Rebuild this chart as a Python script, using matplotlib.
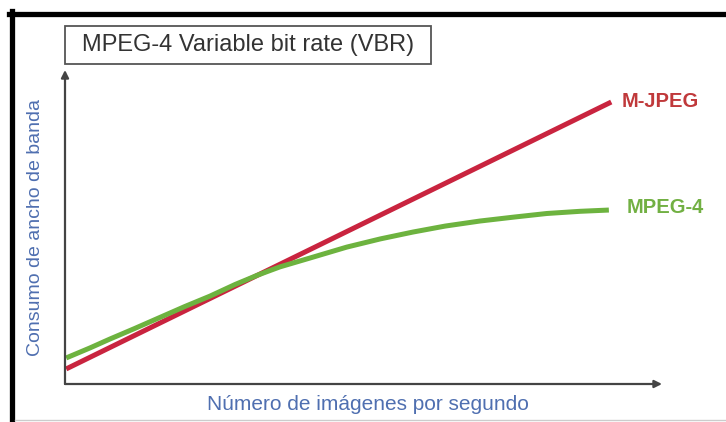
import matplotlib
matplotlib.use('Agg')
import matplotlib.pyplot as plt
from matplotlib.lines import Line2D
from matplotlib.patches import Rectangle

plt.rcParams['font.family'] = ['Liberation Sans', 'DejaVu Sans']

# values (arbitrary units, 0-100 on both axes)
mjpeg_x = [0.2, 91.5]
mjpeg_y = [4.8, 89.8]

mpeg4_x = [0.2, 4.2, 7.5, 11.7, 15.9, 20.1, 24.3, 28.5, 32.3, 36.0,
           41.0, 47.2, 52.8, 58.3, 63.7, 69.5, 75.4, 80.7, 86.3, 91.1]
mpeg4_y = [8.3, 11.5, 14.3, 17.7, 21.2, 24.7, 28.0, 31.7, 34.7, 37.3,
           40.1, 43.6, 46.2, 48.4, 50.3, 51.9, 53.2, 54.3, 55.0, 55.4]

title = 'MPEG-4 Variable bit rate (VBR)'
xlabel = 'Número de imágenes por segundo'
ylabel = 'Consumo de ancho de banda'

red = '#c9243f'
green = '#6db33f'
blue = '#4f6fb0'
axis_col = '#444444'

W, H = 726, 422
fig = plt.figure(figsize=(W / 100, H / 100), dpi=100)
fig.patch.set_facecolor('white')

# frame around the picture (top and left black, faint bottom line)
fig.add_artist(Line2D([9 / W, 1], [1 - 13.5 / H] * 2, color='black', lw=3.8,
                      transform=fig.transFigure))
fig.add_artist(Line2D([12 / W] * 2, [0, 1 - 11 / H], color='black', lw=3.8,
                      transform=fig.transFigure))
fig.add_artist(Line2D([15 / W, 1], [2 / H] * 2, color='#cccccc', lw=1,
                      transform=fig.transFigure))

# title box
fig.add_artist(Rectangle((65 / W, 1 - 64 / H), 366 / W, 38 / H, fill=False,
                         edgecolor='#555555', lw=1.3, transform=fig.transFigure))
fig.text(248 / W, 1 - 45 / H, title, ha='center', va='center',
         fontsize=17, color='#333333')

ax = fig.add_axes([65 / W, (H - 384) / H, 597 / W, 314 / H])
ax.set_xlim(0, 100)
ax.set_ylim(0, 100)
for s in ax.spines.values():
    s.set_visible(False)
ax.set_xticks([])
ax.set_yticks([])
ax.patch.set_alpha(0)

# axes with arrow heads
arrow = dict(arrowstyle='-|>', lw=1.6, color=axis_col, mutation_scale=11,
             shrinkA=0, shrinkB=0)
ax.annotate('', xy=(0, 100), xytext=(0, 0), arrowprops=arrow, annotation_clip=False)
ax.annotate('', xy=(100, 0), xytext=(0, 0), arrowprops=arrow, annotation_clip=False)

ax.plot(mjpeg_x, mjpeg_y, color=red, lw=3.6, solid_capstyle='butt', clip_on=False)
ax.plot(mpeg4_x, mpeg4_y, color=green, lw=3.6, solid_capstyle='butt',
        solid_joinstyle='round', clip_on=False)

ax.text(93.3, 90.1, 'M-JPEG', color='#c0393b', fontsize=14.5, fontweight='bold',
        ha='left', va='center')
ax.text(94.0, 56.2, 'MPEG-4', color='#72b043', fontsize=14.5, fontweight='bold',
        ha='left', va='center')

fig.text(368 / W, 1 - 405 / H, xlabel, ha='center', va='center',
         fontsize=15, color=blue)
fig.text(36 / W, 1 - 228 / H, ylabel, ha='center', va='center',
         rotation=90, fontsize=14, color=blue)

fig.savefig('out.png', dpi=100)
